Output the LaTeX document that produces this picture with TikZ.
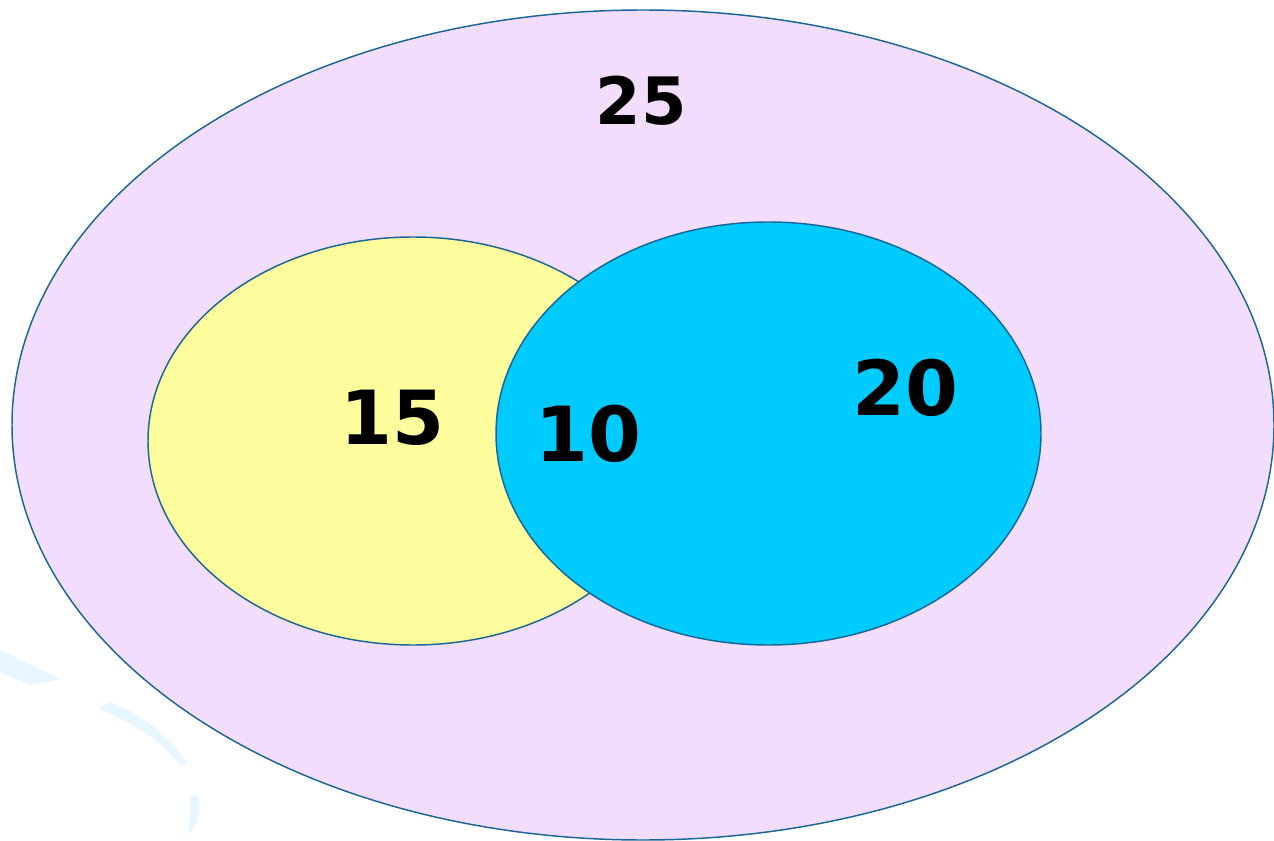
\documentclass[tikz,border=0pt]{standalone}
\usepackage{fontspec}
\setmainfont{DejaVu Sans}
\definecolor{outerfill}{HTML}{F2DEFC}
\definecolor{edge}{HTML}{1B6699}
\definecolor{yellowfill}{HTML}{FDFD9D}
\definecolor{bluefill}{HTML}{00CBFF}
\definecolor{swoosh}{HTML}{E8F6FF}
\begin{document}
\begin{tikzpicture}[x=0.75pt,y=-0.75pt,
  setshape/.style={draw=edge,line width=1.1pt},
  numlabel/.style={font=\fontsize{#1}{#1}\selectfont\bfseries,inner sep=0pt}]
\useasboundingbox (0,0) rectangle (1274,841);
\fill[white] (0,0) rectangle (1274,841);
% faint decorative strokes
\fill[swoosh] (0,650) .. controls (25,662) and (45,672) .. (60,679)
  .. controls (50,682) and (40,684) .. (33,685)
  .. controls (20,681) and (10,676) .. (0,672) -- cycle;
\fill[swoosh] (110,702) .. controls (140,714) and (170,735) .. (188,764)
  -- (180,765) .. controls (160,738) and (130,722) .. (99,709) -- cycle;
\fill[swoosh] (190,796) -- (199,795) -- (199,812) .. controls (197,822) and (193,830) .. (188,835)
  .. controls (190,820) and (190,808) .. (190,796) -- cycle;
% sets
\path[setshape,fill=outerfill] (643,425) ellipse [x radius=631, y radius=415];
\path[setshape,fill=yellowfill] (413,441) ellipse [x radius=265, y radius=204];
\path[setshape,fill=bluefill] (768.5,433.5) ellipse [x radius=272.5, y radius=211.5];
% labels
\node[numlabel=49] (n25) at (641,101) {25};
\node[numlabel=56] (n15) at (392,418) {15};
\node[numlabel=57] (n10) at (588,434) {10};
\node[numlabel=57] (n20) at (905,388) {20};
\end{tikzpicture}
\end{document}
